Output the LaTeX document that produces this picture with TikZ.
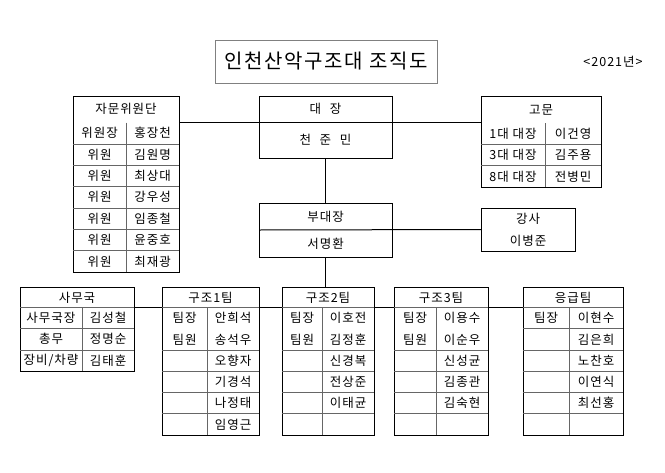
\documentclass[tikz,border=0pt]{standalone}
\usepackage{fontspec}
\newfontfamily\kr[LetterSpace=8]{Noto Sans CJK KR}
\usetikzlibrary{calc}
\usetikzlibrary{shadows}

\begin{document}
\begin{tikzpicture}[x=1pt, y=-1pt, font=\kr\fontsize{12.5}{14}\selectfont,
    frame/.style={draw, line width=1pt, anchor=north west, inner sep=0pt, outer sep=0pt},
    grid/.style={draw=black!60, line width=.6pt},
    link/.style={draw, line width=1pt},
    wide/.style={execute at begin node={\spaceskip=.7em\relax}}]
    \useasboundingbox (0,0) rectangle (665,472);
    % title
    \node[draw=black!50, line width=.8pt, fill=white, minimum width=222pt, minimum height=43pt,
          drop shadow={shadow xshift=1.2pt, shadow yshift=-1.2pt, fill=black!20},
          font=\kr\fontsize{20}{24}\selectfont] (title) at (326,61.5) {인천산악구조대 조직도};
    \node[font=\kr\fontsize{12.5}{14}\selectfont] (year) at (613,62) {<2021년>};
    % frames
    \node[frame, minimum width=106pt, minimum height=176pt] (jamun) at (73,96) {};
    \node[frame, minimum width=133pt, minimum height=62pt] (daejang) at (259,96) {};
    \node[frame, minimum width=120pt, minimum height=91pt] (gomun) at (481,96) {};
    \node[frame, minimum width=133pt, minimum height=54pt] (budae) at (259,203) {};
    \node[frame, minimum width=94pt, minimum height=43pt] (gangsa) at (481,208) {};
    \node[frame, minimum width=114pt, minimum height=84pt] (samu) at (20,287) {};
    \node[frame, minimum width=97pt, minimum height=148pt] (gujo1) at (162,287) {};
    \node[frame, minimum width=92pt, minimum height=148pt] (gujo2) at (282,287) {};
    \node[frame, minimum width=94pt, minimum height=148pt] (gujo3) at (394,287) {};
    \node[frame, minimum width=100pt, minimum height=148pt] (eung) at (523,287) {};

    % connectors
    \draw[link] ($(jamun.north east)+(0,26.5)$) -- ($(gomun.north west)+(0,26.5)$);
    \draw[link] (daejang.south) -- (budae.north);
    \draw[link] (budae.west) -- (gangsa.west);
    \draw[link] (budae.south) -- (budae.south |- gujo2.north);
    \foreach \a/\b in {samu/gujo1, gujo1/gujo2, gujo2/gujo3, gujo3/eung}
        \draw[link] ($(\a.north east)+(0,20.5)$) -- ($(\b.north west)+(0,20.5)$);

    % 자문위원단
    \node (jamun-h) at (126,109) {자문위원단};
    \draw[grid] (126,122.5) -- (126,272);
    \foreach \i in {1,...,6}
        \draw[grid] (73,122.5+21.36*\i) -- (179,122.5+21.36*\i);
    \foreach \a/\b [count=\i] in {위원장/홍장천, 위원/김원명, 위원/최상대, 위원/강우성,
                                 위원/임종철, 위원/윤중호, 위원/최재광} {
        \node (jamun-a\i) at (99.5,122.5+21.36*\i-10.68) {\a};
        \node (jamun-b\i) at (152.5,122.5+21.36*\i-10.68) {\b};
    }

    % 대장
    \node[wide] (daejang-h) at (325.5,109) {대 장};
    \node[wide] (daejang-n) at (325.5,140) {천 준 민};

    % 고문
    \node (gomun-h) at (541,109.5) {고문};
    \draw[grid] (545,123) -- (545,187);
    \foreach \i in {1,2}
        \draw[grid] (481,123+21.33*\i) -- (601,123+21.33*\i);
    \foreach \a/\b [count=\i] in {1대 대장/이건영, 3대 대장/김주용, 8대 대장/전병민} {
        \node (gomun-a\i) at (513,123+21.33*\i-10.67) {\a};
        \node (gomun-b\i) at (573,123+21.33*\i-10.67) {\b};
    }

    % 부대장, 강사
    \node (budae-h) at (325.5,216.5) {부대장};
    \node (budae-n) at (325.5,243.5) {서명환};
    \node (gangsa-h) at (528,219) {강사};
    \node (gangsa-n) at (528,240.5) {이병준};

    % 사무국
    \node (samu-h) at (77,297.5) {사무국};
    \draw[grid] (20,307.5) -- (134,307.5);
    \draw[grid] (82,307.5) -- (82,371);
    \foreach \i in {1,2}
        \draw[grid] (20,307.5+21.17*\i) -- (134,307.5+21.17*\i);
    \foreach \a/\b [count=\i] in {사무국장/김성철, 총무/정명순, {장비/차량}/김태훈} {
        \node (samu-a\i) at (51,307.5+21.17*\i-10.58) {\a};
        \node (samu-b\i) at (108,307.5+21.17*\i-10.58) {\b};
    }

    % 구조팀, 응급팀
    \foreach \t/\l/\c/\r/\h in {gujo1/162/207/259/구조1팀, gujo2/282/322/374/구조2팀,
                                gujo3/394/436/488/구조3팀, eung/523/569/623/응급팀} {
        \node (\t-h) at ({(\l+\r)/2},297.5) {\h};
        \draw[grid] (\l,307.5) -- (\r,307.5);
        \draw[grid] (\c,307.5) -- (\c,435);
        \foreach \i in {2,...,5}
            \draw[grid] (\l,307.5+21.25*\i) -- (\r,307.5+21.25*\i);
    }
    \draw[grid] (523,328.75) -- (623,328.75);
    \foreach \a/\b [count=\i] in {팀장/안희석, 팀원/송석우, /오향자, /기경석, /나정태, /임영근} {
        \node (gujo1-a\i) at (184.5,307.5+21.25*\i-10.62) {\a};
        \node (gujo1-b\i) at (233,307.5+21.25*\i-10.62) {\b};
    }
    \foreach \a/\b [count=\i] in {팀장/이호전, 팀원/김정훈, /신경복, /전상준, /이태균} {
        \node (gujo2-a\i) at (302,307.5+21.25*\i-10.62) {\a};
        \node (gujo2-b\i) at (348,307.5+21.25*\i-10.62) {\b};
    }
    \foreach \a/\b [count=\i] in {팀장/이용수, 팀원/이순우, /신성균, /김종관, /김숙현} {
        \node (gujo3-a\i) at (415,307.5+21.25*\i-10.62) {\a};
        \node (gujo3-b\i) at (462,307.5+21.25*\i-10.62) {\b};
    }
    \foreach \a/\b [count=\i] in {팀장/이현수, /김은희, /노찬호, /이연식, /최선홍} {
        \node (eung-a\i) at (546,307.5+21.25*\i-10.62) {\a};
        \node (eung-b\i) at (596,307.5+21.25*\i-10.62) {\b};
    }
\end{tikzpicture}
\end{document}
